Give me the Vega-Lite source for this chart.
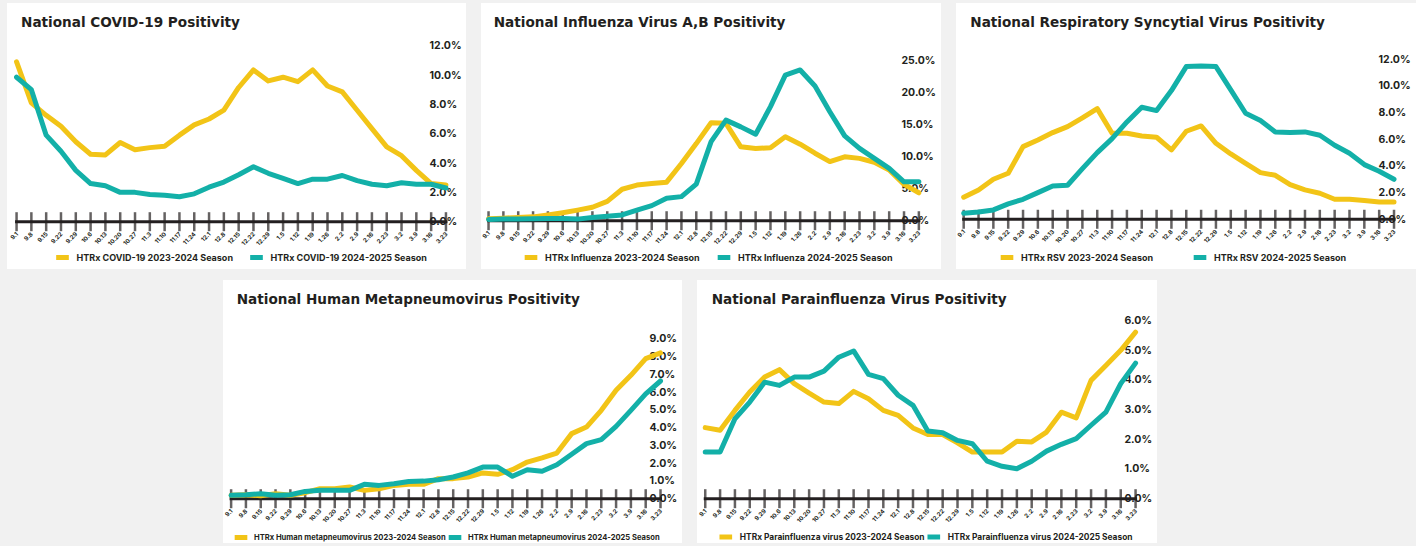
{
  "$schema": "https://vega.github.io/schema/vega-lite/v6.json",
  "background": "#f1f1f1",
  "padding": {"left": 6, "top": 3, "right": 0, "bottom": 0},
  "config": {
    "font": "Inter",
    "view": {"stroke": null},
    "title": {"font": "DejaVu Sans", "fontSize": 13.6, "fontWeight": "bold", "color": "#231f20", "anchor": "start", "frame": "group"},
    "axis": {"grid": false, "ticks": false, "domain": false, "labelColor": "#231f20", "labelFontWeight": "bold", "labelOverlap": false, "labelBound": false, "labelFlush": false},
    "legend": {"labelColor": "#231f20", "labelFontWeight": "bold", "labelFontSize": 9, "labelLimit": 400, "padding": 0}
  },
  "datasets": {
    "covid": [
      {"d": "9.1", "2023-2024": 10.9, "2024-2025": 9.85},
      {"d": "9.8", "2023-2024": 8.1, "2024-2025": 9.0},
      {"d": "9.15", "2023-2024": 7.25, "2024-2025": 5.9},
      {"d": "9.22", "2023-2024": 6.5, "2024-2025": 4.8},
      {"d": "9.29", "2023-2024": 5.45, "2024-2025": 3.5},
      {"d": "10.6", "2023-2024": 4.6, "2024-2025": 2.6},
      {"d": "10.13", "2023-2024": 4.55, "2024-2025": 2.45},
      {"d": "10.20", "2023-2024": 5.4, "2024-2025": 2.0},
      {"d": "10.27", "2023-2024": 4.9, "2024-2025": 2.0},
      {"d": "11.3", "2023-2024": 5.05, "2024-2025": 1.85},
      {"d": "11.10", "2023-2024": 5.15, "2024-2025": 1.8},
      {"d": "11.17", "2023-2024": 5.9, "2024-2025": 1.7},
      {"d": "11.24", "2023-2024": 6.6, "2024-2025": 1.9},
      {"d": "12.1", "2023-2024": 7.0, "2024-2025": 2.35},
      {"d": "12.8", "2023-2024": 7.6, "2024-2025": 2.7},
      {"d": "12.15", "2023-2024": 9.15, "2024-2025": 3.2},
      {"d": "12.22", "2023-2024": 10.35, "2024-2025": 3.75},
      {"d": "12.29", "2023-2024": 9.6, "2024-2025": 3.3},
      {"d": "1.5", "2023-2024": 9.85, "2024-2025": 2.95},
      {"d": "1.12", "2023-2024": 9.55, "2024-2025": 2.6},
      {"d": "1.19", "2023-2024": 10.35, "2024-2025": 2.9},
      {"d": "1.26", "2023-2024": 9.25, "2024-2025": 2.9},
      {"d": "2.2", "2023-2024": 8.85, "2024-2025": 3.15},
      {"d": "2.9", "2023-2024": 7.6, "2024-2025": 2.8},
      {"d": "2.16", "2023-2024": 6.35, "2024-2025": 2.55},
      {"d": "2.23", "2023-2024": 5.1, "2024-2025": 2.45},
      {"d": "3.2", "2023-2024": 4.5, "2024-2025": 2.65},
      {"d": "3.9", "2023-2024": 3.5, "2024-2025": 2.55},
      {"d": "3.16", "2023-2024": 2.6, "2024-2025": 2.55},
      {"d": "3.23", "2023-2024": 2.5, "2024-2025": 2.3}
    ],
    "flu": [
      {"d": "9.1", "2023-2024": 0.3, "2024-2025": 0.2},
      {"d": "9.8", "2023-2024": 0.4, "2024-2025": 0.25},
      {"d": "9.15", "2023-2024": 0.5, "2024-2025": 0.25},
      {"d": "9.22", "2023-2024": 0.6, "2024-2025": 0.3},
      {"d": "9.29", "2023-2024": 0.9, "2024-2025": 0.35},
      {"d": "10.6", "2023-2024": 1.25, "2024-2025": 0.35},
      {"d": "10.13", "2023-2024": 1.65, "2024-2025": 0.25},
      {"d": "10.20", "2023-2024": 2.1, "2024-2025": 0.5},
      {"d": "10.27", "2023-2024": 3.0, "2024-2025": 0.7},
      {"d": "11.3", "2023-2024": 4.9, "2024-2025": 0.9},
      {"d": "11.10", "2023-2024": 5.55, "2024-2025": 1.65},
      {"d": "11.17", "2023-2024": 5.8, "2024-2025": 2.35},
      {"d": "11.24", "2023-2024": 6.0, "2024-2025": 3.5},
      {"d": "12.1", "2023-2024": 8.9, "2024-2025": 3.75},
      {"d": "12.8", "2023-2024": 12.0, "2024-2025": 5.7},
      {"d": "12.15", "2023-2024": 15.25, "2024-2025": 12.3},
      {"d": "12.22", "2023-2024": 15.15, "2024-2025": 15.65},
      {"d": "12.29", "2023-2024": 11.5, "2024-2025": 14.6},
      {"d": "1.5", "2023-2024": 11.25, "2024-2025": 13.45},
      {"d": "1.12", "2023-2024": 11.35, "2024-2025": 17.75},
      {"d": "1.19", "2023-2024": 13.05, "2024-2025": 22.65},
      {"d": "1.26", "2023-2024": 11.9, "2024-2025": 23.45},
      {"d": "2.2", "2023-2024": 10.5, "2024-2025": 20.95},
      {"d": "2.9", "2023-2024": 9.2, "2024-2025": 16.95},
      {"d": "2.16", "2023-2024": 9.95, "2024-2025": 13.2},
      {"d": "2.23", "2023-2024": 9.7, "2024-2025": 11.25},
      {"d": "3.2", "2023-2024": 9.1, "2024-2025": 9.7},
      {"d": "3.9", "2023-2024": 7.9, "2024-2025": 8.15},
      {"d": "3.16", "2023-2024": 5.65, "2024-2025": 6.05},
      {"d": "3.23", "2023-2024": 4.35, "2024-2025": 6.05}
    ],
    "rsv": [
      {"d": "9.1", "2023-2024": 1.65, "2024-2025": 0.45},
      {"d": "9.8", "2023-2024": 2.2, "2024-2025": 0.55},
      {"d": "9.15", "2023-2024": 3.0, "2024-2025": 0.7},
      {"d": "9.22", "2023-2024": 3.45, "2024-2025": 1.15},
      {"d": "9.29", "2023-2024": 5.45, "2024-2025": 1.5},
      {"d": "10.6", "2023-2024": 5.95, "2024-2025": 2.0},
      {"d": "10.13", "2023-2024": 6.5, "2024-2025": 2.5},
      {"d": "10.20", "2023-2024": 6.95, "2024-2025": 2.55},
      {"d": "10.27", "2023-2024": 7.6, "2024-2025": 3.8},
      {"d": "11.3", "2023-2024": 8.3, "2024-2025": 5.0},
      {"d": "11.10", "2023-2024": 6.45, "2024-2025": 6.05},
      {"d": "11.17", "2023-2024": 6.45, "2024-2025": 7.3},
      {"d": "11.24", "2023-2024": 6.25, "2024-2025": 8.4},
      {"d": "12.1", "2023-2024": 6.15, "2024-2025": 8.15},
      {"d": "12.8", "2023-2024": 5.2, "2024-2025": 9.65},
      {"d": "12.15", "2023-2024": 6.6, "2024-2025": 11.45},
      {"d": "12.22", "2023-2024": 7.0, "2024-2025": 11.5},
      {"d": "12.29", "2023-2024": 5.7, "2024-2025": 11.45},
      {"d": "1.5", "2023-2024": 4.9, "2024-2025": 9.7},
      {"d": "1.12", "2023-2024": 4.2, "2024-2025": 7.95},
      {"d": "1.19", "2023-2024": 3.5, "2024-2025": 7.4},
      {"d": "1.26", "2023-2024": 3.3, "2024-2025": 6.55},
      {"d": "2.2", "2023-2024": 2.6, "2024-2025": 6.5},
      {"d": "2.9", "2023-2024": 2.2, "2024-2025": 6.55},
      {"d": "2.16", "2023-2024": 1.95, "2024-2025": 6.3},
      {"d": "2.23", "2023-2024": 1.5, "2024-2025": 5.55},
      {"d": "3.2", "2023-2024": 1.5, "2024-2025": 4.95},
      {"d": "3.9", "2023-2024": 1.4, "2024-2025": 4.1},
      {"d": "3.16", "2023-2024": 1.3, "2024-2025": 3.6},
      {"d": "3.23", "2023-2024": 1.3, "2024-2025": 3.0}
    ],
    "hmpv": [
      {"d": "9.1", "2023-2024": 0.19, "2024-2025": 0.19},
      {"d": "9.8", "2023-2024": 0.22, "2024-2025": 0.22},
      {"d": "9.15", "2023-2024": 0.17, "2024-2025": 0.28},
      {"d": "9.22", "2023-2024": 0.28, "2024-2025": 0.19},
      {"d": "9.29", "2023-2024": 0.19, "2024-2025": 0.22},
      {"d": "10.6", "2023-2024": 0.34, "2024-2025": 0.41},
      {"d": "10.13", "2023-2024": 0.56, "2024-2025": 0.47},
      {"d": "10.20", "2023-2024": 0.56, "2024-2025": 0.47},
      {"d": "10.27", "2023-2024": 0.66, "2024-2025": 0.47},
      {"d": "11.3", "2023-2024": 0.47, "2024-2025": 0.81},
      {"d": "11.10", "2023-2024": 0.56, "2024-2025": 0.75},
      {"d": "11.17", "2023-2024": 0.75, "2024-2025": 0.84},
      {"d": "11.24", "2023-2024": 0.81, "2024-2025": 0.97},
      {"d": "12.1", "2023-2024": 0.81, "2024-2025": 0.99},
      {"d": "12.8", "2023-2024": 1.13, "2024-2025": 1.07},
      {"d": "12.15", "2023-2024": 1.13, "2024-2025": 1.22},
      {"d": "12.22", "2023-2024": 1.22, "2024-2025": 1.45},
      {"d": "12.29", "2023-2024": 1.45, "2024-2025": 1.78},
      {"d": "1.5", "2023-2024": 1.37, "2024-2025": 1.78},
      {"d": "1.12", "2023-2024": 1.63, "2024-2025": 1.26},
      {"d": "1.19", "2023-2024": 2.06, "2024-2025": 1.63},
      {"d": "1.26", "2023-2024": 2.3, "2024-2025": 1.54},
      {"d": "2.2", "2023-2024": 2.57, "2024-2025": 1.91},
      {"d": "2.9", "2023-2024": 3.66, "2024-2025": 2.5},
      {"d": "2.16", "2023-2024": 4.03, "2024-2025": 3.1},
      {"d": "2.23", "2023-2024": 4.97, "2024-2025": 3.32},
      {"d": "3.2", "2023-2024": 6.1, "2024-2025": 4.07},
      {"d": "3.9", "2023-2024": 6.94, "2024-2025": 4.97},
      {"d": "3.16", "2023-2024": 7.88, "2024-2025": 5.9},
      {"d": "3.23", "2023-2024": 8.2, "2024-2025": 6.62}
    ],
    "piv": [
      {"d": "9.1", "2023-2024": 2.39, "2024-2025": 1.57},
      {"d": "9.8", "2023-2024": 2.3, "2024-2025": 1.57},
      {"d": "9.15", "2023-2024": 2.97, "2024-2025": 2.69},
      {"d": "9.22", "2023-2024": 3.59, "2024-2025": 3.25},
      {"d": "9.29", "2023-2024": 4.09, "2024-2025": 3.92},
      {"d": "10.6", "2023-2024": 4.34, "2024-2025": 3.81},
      {"d": "10.13", "2023-2024": 3.87, "2024-2025": 4.09},
      {"d": "10.20", "2023-2024": 3.55, "2024-2025": 4.09},
      {"d": "10.27", "2023-2024": 3.25, "2024-2025": 4.29},
      {"d": "11.3", "2023-2024": 3.2, "2024-2025": 4.76},
      {"d": "11.10", "2023-2024": 3.61, "2024-2025": 4.97},
      {"d": "11.17", "2023-2024": 3.36, "2024-2025": 4.18},
      {"d": "11.24", "2023-2024": 2.97, "2024-2025": 4.04},
      {"d": "12.1", "2023-2024": 2.8, "2024-2025": 3.48},
      {"d": "12.8", "2023-2024": 2.38, "2024-2025": 3.14},
      {"d": "12.15", "2023-2024": 2.16, "2024-2025": 2.28},
      {"d": "12.22", "2023-2024": 2.16, "2024-2025": 2.22},
      {"d": "12.29", "2023-2024": 1.88, "2024-2025": 1.96},
      {"d": "1.5", "2023-2024": 1.57, "2024-2025": 1.85},
      {"d": "1.12", "2023-2024": 1.57, "2024-2025": 1.26},
      {"d": "1.19", "2023-2024": 1.57, "2024-2025": 1.09},
      {"d": "1.26", "2023-2024": 1.93, "2024-2025": 1.01},
      {"d": "2.2", "2023-2024": 1.91, "2024-2025": 1.26},
      {"d": "2.9", "2023-2024": 2.24, "2024-2025": 1.6},
      {"d": "2.16", "2023-2024": 2.91, "2024-2025": 1.83},
      {"d": "2.23", "2023-2024": 2.72, "2024-2025": 2.02},
      {"d": "3.2", "2023-2024": 3.98, "2024-2025": 2.47},
      {"d": "3.9", "2023-2024": 4.48, "2024-2025": 2.91},
      {"d": "3.16", "2023-2024": 4.99, "2024-2025": 3.87},
      {"d": "3.23", "2023-2024": 5.6, "2024-2025": 4.56}
    ]
  },
  "spacing": 10,
  "resolve": {"scale": {"color": "independent", "x": "independent", "y": "independent"}, "legend": {"color": "independent"}},
  "vconcat": [
    {
      "spacing": 15,
      "bounds": "flush",
      "resolve": {"scale": {"color": "independent", "x": "independent", "y": "independent"}, "legend": {"color": "independent"}},
      "hconcat": [
        {
          "width": 459, "height": 266,
          "view": {"fill": "white", "stroke": null},
          "title": {"text": "National COVID-19 Positivity", "dx": 14, "offset": -27},
          "data": {"name": "covid"},
          "layer": [
            {"data": {"values": [{}]}, "mark": {"type": "rule", "color": "#231f20", "strokeWidth": 3, "strokeCap": "square"},
             "encoding": {"x": {"datum": "9.1", "type": "ordinal"}, "x2": {"datum": "3.23"}, "y": {"datum": 0, "type": "quantitative"}}},
            {"mark": {"type": "tick", "orient": "vertical", "color": "#231f20", "size": 19, "thickness": 2.5},
             "encoding": {"x": {"field": "d", "type": "ordinal", "title": null}, "y": {"datum": 0, "type": "quantitative"}}},
            {"transform": [{"fold": ["2023-2024", "2024-2025"], "as": ["s", "v"]}],
             "mark": {"type": "line", "strokeWidth": 5, "strokeCap": "round", "strokeJoin": "round"},
             "encoding": {
               "x": {"field": "d", "type": "ordinal", "title": null,
                     "scale": {"type": "point", "domain": ["9.1","9.8","9.15","9.22","9.29","10.6","10.13","10.20","10.27","11.3","11.10","11.17","11.24","12.1","12.8","12.15","12.22","12.29","1.5","1.12","1.19","1.26","2.2","2.9","2.16","2.23","3.2","3.9","3.16","3.23"], "padding": 2.565, "align": 0.323},
                     "axis": {"orient": "bottom", "offset": -47.3, "labelAngle": -45, "labelAlign": "right", "labelBaseline": "middle", "labelPadding": 11, "labelFontSize": 6, "labelOverlap": false}},
               "y": {"field": "v", "type": "quantitative", "title": null,
                     "scale": {"domain": [-3.225, 14.91], "nice": false, "zero": false},
                     "axis": {"orient": "right", "values": [0, 2, 4, 6, 8, 10, 12], "tickCount": 20, "labelExpr": "format(datum.value, '.1f') + '%'", "offset": -37, "labelPadding": 0, "labelFontSize": 10.5, "labelAlign": "left", "labelBaseline": "middle", "labelOverlap": false}},
               "color": {"field": "s", "type": "nominal",
                         "scale": {"domain": ["2023-2024", "2024-2025"], "range": ["#F2C417", "#13B0A8"]},
                         "legend": {"orient": "none", "legendX": 46.5, "legendY": 245.5, "direction": "horizontal", "title": null, "symbolType": "stroke", "symbolStrokeWidth": 5, "symbolSize": 160, "columnPadding": 6, "labelOffset": 5, "labelExpr": "'HTRx COVID-19 ' + datum.label + ' Season'"}},
               "order": {"value": null}
             }}
          ]
        },
        {
          "width": 460, "height": 266,
          "view": {"fill": "white", "stroke": null},
          "title": {"text": "National Influenza Virus A,B Positivity", "dx": 12.7, "offset": -27},
          "data": {"name": "flu"},
          "layer": [
            {"data": {"values": [{}]}, "mark": {"type": "rule", "color": "#231f20", "strokeWidth": 3, "strokeCap": "square"},
             "encoding": {"x": {"datum": "9.1", "type": "ordinal"}, "x2": {"datum": "3.23"}, "y": {"datum": 0, "type": "quantitative"}}},
            {"mark": {"type": "tick", "orient": "vertical", "color": "#231f20", "size": 19, "thickness": 2.5},
             "encoding": {"x": {"field": "d", "type": "ordinal", "title": null}, "y": {"datum": 0, "type": "quantitative"}}},
            {"transform": [{"fold": ["2023-2024", "2024-2025"], "as": ["s", "v"]}],
             "mark": {"type": "line", "strokeWidth": 5, "strokeCap": "round", "strokeJoin": "round"},
             "encoding": {
               "x": {"field": "d", "type": "ordinal", "title": null,
                     "scale": {"type": "point", "domain": ["9.1","9.8","9.15","9.22","9.29","10.6","10.13","10.20","10.27","11.3","11.10","11.17","11.24","12.1","12.8","12.15","12.22","12.29","1.5","1.12","1.19","1.26","2.2","2.9","2.16","2.23","3.2","3.9","3.16","3.23"], "padding": 2.515, "align": 0.254},
                     "axis": {"orient": "bottom", "offset": -48.3, "labelAngle": -45, "labelAlign": "right", "labelBaseline": "middle", "labelPadding": 11, "labelFontSize": 6, "labelOverlap": false}},
               "y": {"field": "v", "type": "quantitative", "title": null,
                     "scale": {"domain": [-7.51, 33.87], "nice": false, "zero": false},
                     "axis": {"orient": "right", "values": [0, 5, 10, 15, 20, 25], "tickCount": 20, "labelExpr": "format(datum.value, '.1f') + '%'", "offset": -40, "labelPadding": 0, "labelFontSize": 10.5, "labelAlign": "left", "labelBaseline": "middle", "labelOverlap": false}},
               "color": {"field": "s", "type": "nominal",
                         "scale": {"domain": ["2023-2024", "2024-2025"], "range": ["#F2C417", "#13B0A8"]},
                         "legend": {"orient": "none", "legendX": 41, "legendY": 245.5, "direction": "horizontal", "title": null, "symbolType": "stroke", "symbolStrokeWidth": 5, "symbolSize": 160, "columnPadding": 7, "labelOffset": 5, "labelExpr": "'HTRx Influenza ' + datum.label + ' Season'"}},
               "order": {"value": null}
             }}
          ]
        },
        {
          "width": 460, "height": 266,
          "view": {"fill": "white", "stroke": null},
          "title": {"text": "National Respiratory Syncytial Virus Positivity", "dx": 14.3, "offset": -27},
          "data": {"name": "rsv"},
          "layer": [
            {"data": {"values": [{}]}, "mark": {"type": "rule", "color": "#231f20", "strokeWidth": 3, "strokeCap": "square"},
             "encoding": {"x": {"datum": "9.1", "type": "ordinal"}, "x2": {"datum": "3.23"}, "y": {"datum": 0, "type": "quantitative"}}},
            {"mark": {"type": "tick", "orient": "vertical", "color": "#231f20", "size": 19, "thickness": 2.5},
             "encoding": {"x": {"field": "d", "type": "ordinal", "title": null}, "y": {"datum": 0, "type": "quantitative"}}},
            {"transform": [{"fold": ["2023-2024", "2024-2025"], "as": ["s", "v"]}],
             "mark": {"type": "line", "strokeWidth": 5, "strokeCap": "round", "strokeJoin": "round"},
             "encoding": {
               "x": {"field": "d", "type": "ordinal", "title": null,
                     "scale": {"type": "point", "domain": ["9.1","9.8","9.15","9.22","9.29","10.6","10.13","10.20","10.27","11.3","11.10","11.17","11.24","12.1","12.8","12.15","12.22","12.29","1.5","1.12","1.19","1.26","2.2","2.9","2.16","2.23","3.2","3.9","3.16","3.23"], "padding": 2.53, "align": 0.259},
                     "axis": {"orient": "bottom", "offset": -49.7, "labelAngle": -45, "labelAlign": "right", "labelBaseline": "middle", "labelPadding": 11, "labelFontSize": 6, "labelOverlap": false}},
               "y": {"field": "v", "type": "quantitative", "title": null,
                     "scale": {"domain": [-3.73, 16.22], "nice": false, "zero": false},
                     "axis": {"orient": "right", "values": [0, 2, 4, 6, 8, 10, 12], "tickCount": 20, "labelExpr": "format(datum.value, '.1f') + '%'", "offset": -38, "labelPadding": 0, "labelFontSize": 10.5, "labelAlign": "left", "labelBaseline": "middle", "labelOverlap": false}},
               "color": {"field": "s", "type": "nominal",
                         "scale": {"domain": ["2023-2024", "2024-2025"], "range": ["#F2C417", "#13B0A8"]},
                         "legend": {"orient": "none", "legendX": 42, "legendY": 245.5, "direction": "horizontal", "title": null, "symbolType": "stroke", "symbolStrokeWidth": 5, "symbolSize": 160, "columnPadding": 29, "labelOffset": 5, "labelExpr": "'HTRx RSV ' + datum.label + ' Season'"}},
               "order": {"value": null}
             }}
          ]
        }
      ]
    },
    {
      "spacing": 15,
      "bounds": "flush",
      "resolve": {"scale": {"color": "independent", "x": "independent", "y": "independent"}, "legend": {"color": "independent"}},
      "hconcat": [
        {
          "width": 201, "height": 263,
          "view": {"fill": "transparent", "stroke": "transparent"},
          "data": {"values": []},
          "mark": "point"
        },
        {
          "width": 459, "height": 263,
          "view": {"fill": "white", "stroke": null},
          "title": {"text": "National Human Metapneumovirus Positivity", "dx": 13.7, "offset": -27},
          "data": {"name": "hmpv"},
          "layer": [
            {"data": {"values": [{}]}, "mark": {"type": "rule", "color": "#231f20", "strokeWidth": 3, "strokeCap": "square"},
             "encoding": {"x": {"datum": "9.1", "type": "ordinal"}, "x2": {"datum": "3.23"}, "y": {"datum": 0, "type": "quantitative"}}},
            {"mark": {"type": "tick", "orient": "vertical", "color": "#231f20", "size": 19, "thickness": 2.5},
             "encoding": {"x": {"field": "d", "type": "ordinal", "title": null}, "y": {"datum": 0, "type": "quantitative"}}},
            {"transform": [{"fold": ["2023-2024", "2024-2025"], "as": ["s", "v"]}],
             "mark": {"type": "line", "strokeWidth": 5, "strokeCap": "round", "strokeJoin": "round"},
             "encoding": {
               "x": {"field": "d", "type": "ordinal", "title": null,
                     "scale": {"type": "point", "domain": ["9.1","9.8","9.15","9.22","9.29","10.6","10.13","10.20","10.27","11.3","11.10","11.17","11.24","12.1","12.8","12.15","12.22","12.29","1.5","1.12","1.19","1.26","2.2","2.9","2.16","2.23","3.2","3.9","3.16","3.23"], "padding": 2.42, "align": 0.274},
                     "axis": {"orient": "bottom", "offset": -44.3, "labelAngle": -45, "labelAlign": "right", "labelBaseline": "middle", "labelPadding": 11, "labelFontSize": 6, "labelOverlap": false}},
               "y": {"field": "v", "type": "quantitative", "title": null,
                     "scale": {"domain": [-2.49, 12.3], "nice": false, "zero": false},
                     "axis": {"orient": "right", "values": [0, 1, 2, 3, 4, 5, 6, 7, 8, 9], "tickCount": 20, "labelExpr": "format(datum.value, '.1f') + '%'", "offset": -33, "labelPadding": 0, "labelFontSize": 10.5, "labelAlign": "left", "labelBaseline": "middle", "labelOverlap": false}},
               "color": {"field": "s", "type": "nominal",
                         "scale": {"domain": ["2023-2024", "2024-2025"], "range": ["#F2C417", "#13B0A8"]},
                         "legend": {"orient": "none", "legendX": 9, "legendY": 248.5, "direction": "horizontal", "title": null, "symbolType": "stroke", "symbolStrokeWidth": 5, "symbolSize": 160, "columnPadding": -12, "labelOffset": 4, "labelFontSize": 7.6, "labelExpr": "'HTRx Human metapneumovirus ' + datum.label + ' Season'"}},
               "order": {"value": null}
             }}
          ]
        },
        {
          "width": 460, "height": 263,
          "view": {"fill": "white", "stroke": null},
          "title": {"text": "National Parainfluenza Virus Positivity", "dx": 14.7, "offset": -27},
          "data": {"name": "piv"},
          "layer": [
            {"data": {"values": [{}]}, "mark": {"type": "rule", "color": "#231f20", "strokeWidth": 3, "strokeCap": "square"},
             "encoding": {"x": {"datum": "9.1", "type": "ordinal"}, "x2": {"datum": "3.23"}, "y": {"datum": 0, "type": "quantitative"}}},
            {"mark": {"type": "tick", "orient": "vertical", "color": "#231f20", "size": 19, "thickness": 2.5},
             "encoding": {"x": {"field": "d", "type": "ordinal", "title": null}, "y": {"datum": 0, "type": "quantitative"}}},
            {"transform": [{"fold": ["2023-2024", "2024-2025"], "as": ["s", "v"]}],
             "mark": {"type": "line", "strokeWidth": 5, "strokeCap": "round", "strokeJoin": "round"},
             "encoding": {
               "x": {"field": "d", "type": "ordinal", "title": null,
                     "scale": {"type": "point", "domain": ["9.1","9.8","9.15","9.22","9.29","10.6","10.13","10.20","10.27","11.3","11.10","11.17","11.24","12.1","12.8","12.15","12.22","12.29","1.5","1.12","1.19","1.26","2.2","2.9","2.16","2.23","3.2","3.9","3.16","3.23"], "padding": 2.37, "align": 0.278},
                     "axis": {"orient": "bottom", "offset": -44.3, "labelAngle": -45, "labelAlign": "right", "labelBaseline": "middle", "labelPadding": 11, "labelFontSize": 6, "labelOverlap": false}},
               "y": {"field": "v", "type": "quantitative", "title": null,
                     "scale": {"domain": [-1.49, 7.356], "nice": false, "zero": false},
                     "axis": {"orient": "right", "values": [0, 1, 2, 3, 4, 5, 6], "tickCount": 20, "labelExpr": "format(datum.value, '.1f') + '%'", "offset": -33, "labelPadding": 0, "labelFontSize": 10.5, "labelAlign": "left", "labelBaseline": "middle", "labelOverlap": false}},
               "color": {"field": "s", "type": "nominal",
                         "scale": {"domain": ["2023-2024", "2024-2025"], "range": ["#F2C417", "#13B0A8"]},
                         "legend": {"orient": "none", "legendX": 19.8, "legendY": 248, "direction": "horizontal", "title": null, "symbolType": "stroke", "symbolStrokeWidth": 5, "symbolSize": 160, "columnPadding": -11, "labelOffset": 5, "labelFontSize": 8.4, "labelExpr": "'HTRx Parainfluenza virus ' + datum.label + ' Season'"}},
               "order": {"value": null}
             }}
          ]
        }
      ]
    }
  ]
}
